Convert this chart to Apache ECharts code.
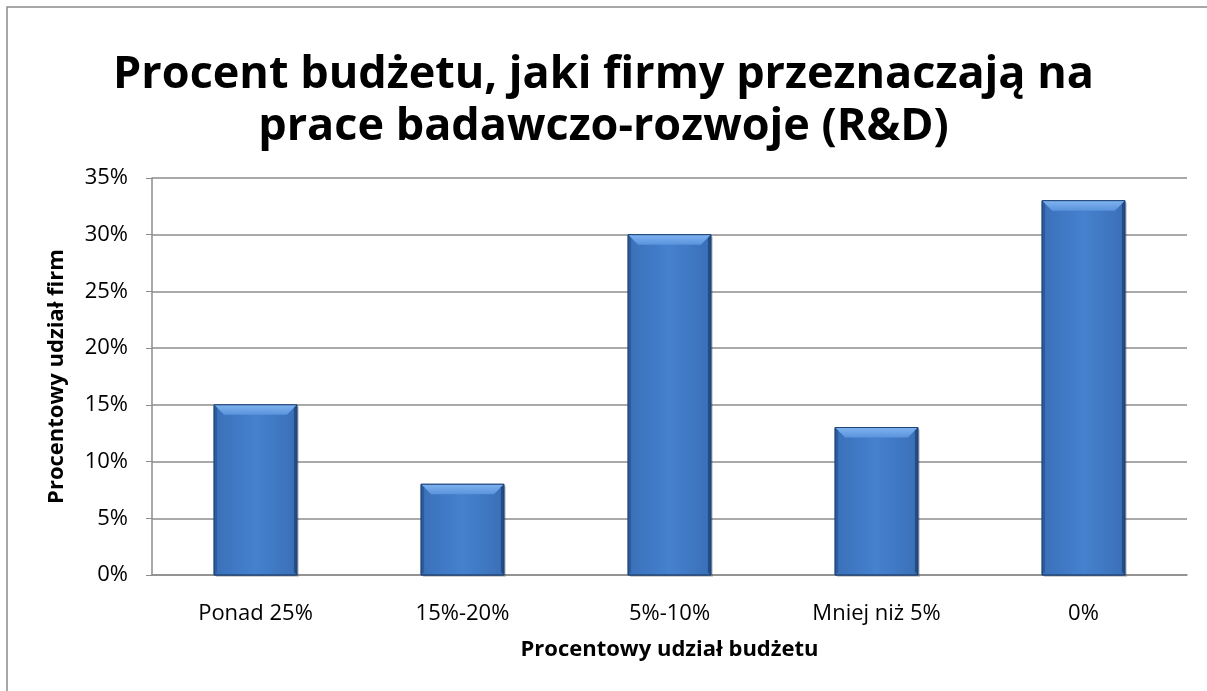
<!DOCTYPE html>
<html>
<head>
<meta charset="utf-8">
<script src="https://cdn.jsdelivr.net/npm/echarts@6/dist/echarts.min.js"></script>
<style>
  html, body { margin: 0; padding: 0; background: #fff; }
  #chart { width: 1207px; height: 691px; }
</style>
</head>
<body>
<div id="chart"></div>
<script>
// dane z wykresu
const categories = ['Ponad 25%', '15%-20%', '5%-10%', 'Mniej niż 5%', '0%'];
const shares = [15, 8, 30, 13, 33];
const yTicks = [0, 5, 10, 15, 20, 25, 30, 35];

const font = '"Open Sans", "Noto Sans", sans-serif';
let chart = echarts.init(document.getElementById('chart'));

// słupek z fazowaniem (jak w Excelu)
function renderBar(params, api) {
  let top = api.coord([api.value(0), api.value(1)]);
  let base = api.coord([api.value(0), 0]);
  let w = api.size([1, 0])[0] * 0.4;
  let x0 = top[0] - w / 2, x1 = top[0] + w / 2;
  let y0 = top[1], y1 = base[1];
  let b = 10, s = 3;
  return {
    type: 'group',
    children: [
      {
        type: 'rect',
        shape: { x: x0 + 2, y: y0 + 2, width: w, height: y1 - y0 },
        style: { fill: 'rgba(0,0,0,0.18)' }
      },
      {
        type: 'rect',
        shape: { x: x0, y: y0, width: w, height: y1 - y0 },
        style: {
          fill: new echarts.graphic.LinearGradient(0, 0, 1, 0, [
            { offset: 0, color: '#3a70b8' },
            { offset: 0.5, color: '#4581cf' },
            { offset: 1, color: '#3a6fb6' }
          ]),
          stroke: '#2a5087',
          lineWidth: 1
        }
      },
      {
        type: 'polygon',
        shape: { points: [[x0, y0], [x1, y0], [x1 - b, y0 + b], [x0 + b, y0 + b]] },
        style: {
          fill: new echarts.graphic.LinearGradient(0, 0, 0, 1, [
            { offset: 0, color: '#80b4f1' },
            { offset: 1, color: '#5a93dc' }
          ])
        }
      },
      {
        type: 'polygon',
        shape: { points: [[x0, y0], [x0 + s, y0 + s], [x0 + s, y1 - s], [x0, y1]] },
        style: { fill: '#2d5c9c' }
      },
      {
        type: 'polygon',
        shape: { points: [[x1, y0], [x1 - s, y0 + s], [x1 - s, y1 - s], [x1, y1]] },
        style: { fill: '#244d86' }
      },
      {
        type: 'rect',
        shape: { x: x0, y: y0, width: w, height: y1 - y0 },
        style: { fill: 'none', stroke: '#1f4476', lineWidth: 1 }
      }
    ]
  };
}

let option = {
  animation: false,
  title: {
    text: 'Procent budżetu, jaki firmy przeznaczają na\nprace badawczo-rozwoje (R&D)',
    left: 'center',
    top: 44,
    textStyle: {
      fontFamily: font,
      fontSize: 45,
      fontWeight: 'bold',
      color: '#000',
      lineHeight: 52
    }
  },
  graphic: [{
    type: 'rect',
    shape: { x: 7, y: 7, width: 1210, height: 700 },
    style: { fill: 'none', stroke: '#8a8a8a', lineWidth: 1.5 },
    silent: true
  }],
  grid: { left: 152, right: 20, top: 178, bottom: 116 },
  xAxis: {
    type: 'category',
    data: categories,
    name: 'Procentowy udział budżetu',
    nameLocation: 'middle',
    nameGap: 64,
    nameTextStyle: { fontFamily: font, fontSize: 22, fontWeight: 'bold', color: '#000' },
    axisLine: { lineStyle: { color: '#8c8c8c', width: 1.5 } },
    axisTick: { show: false },
    axisLabel: { fontFamily: font, fontSize: 22, color: '#000', margin: 28 }
  },
  yAxis: {
    type: 'value',
    min: 0,
    max: 35,
    interval: 5,
    name: 'Procentowy udział firm',
    nameLocation: 'middle',
    nameGap: 84,
    nameTextStyle: { fontFamily: font, fontSize: 22, fontWeight: 'bold', color: '#000' },
    axisLine: { show: true, lineStyle: { color: '#8c8c8c', width: 1.5 } },
    axisTick: { show: true, inside: false, length: 6, lineStyle: { color: '#8c8c8c' } },
    axisLabel: {
      fontFamily: font, fontSize: 22, color: '#000', margin: 24,
      formatter: v => yTicks.includes(v) ? v + '%' : ''
    },
    splitLine: { lineStyle: { color: '#8c8c8c', width: 1.5 } }
  },
  series: [{
    type: 'custom',
    renderItem: renderBar,
    encode: { x: 0, y: 1 },
    data: shares.map((v, i) => [i, v])
  }]
};

chart.setOption(option);
</script>
</body>
</html>
